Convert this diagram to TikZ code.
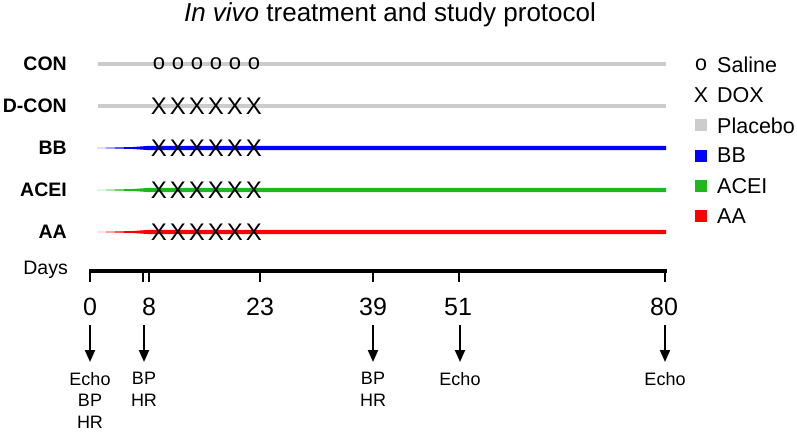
\documentclass[tikz,border=0pt]{standalone}
\usepackage{fontspec}
\setmainfont{Liberation Sans}
\usetikzlibrary{arrows.meta}
\usepackage{xcolor}
\definecolor{Placebo}{HTML}{CCCCCC}
\definecolor{BBblue}{HTML}{0000FF}
\definecolor{ACEIgreen}{HTML}{1CB81C}
\definecolor{AAred}{HTML}{FF0000}

\begin{document}
\begin{tikzpicture}[x=1pt,y=-1pt,
    grp/.style={font=\fontsize{19.5}{19.5}\selectfont\bfseries,anchor=east,inner sep=0pt},
    dose/.style={font=\fontsize{24}{24}\selectfont,inner sep=0pt},
    legtxt/.style={font=\fontsize{21.5}{21.5}\selectfont,anchor=west,inner sep=0pt},
    daynum/.style={font=\fontsize{25}{25}\selectfont,inner sep=0pt},
    meas/.style={font=\fontsize{18}{21.5}\selectfont,align=center,anchor=north,inner sep=0pt},
    tick/.style={line width=2pt},
    down/.style={line width=2pt,-{Triangle[length=12pt,width=10pt]},shorten >=10pt}]
  \useasboundingbox (0,0) rectangle (797,431);

  % title
  \node[font=\fontsize{26}{26}\selectfont,anchor=base] (title) at (390,21)
    {\textit{In vivo} treatment and study protocol};

  % treatment groups
  \foreach \nm/\lab/\col [count=\i from 0] in {con/CON/Placebo,dcon/D-CON/Placebo,
      bb/BB/BBblue,acei/ACEI/ACEIgreen,aa/AA/AAred}{
    \pgfmathsetmacro{\y}{64+42*\i}
    \node[grp] (\nm) at (67,\y) {\lab};
    \ifnum\i<2
      \draw[\col,line width=4pt] (98,\y) -- (666,\y);
    \else
      \fill[\col] (97,\y) -- (133,\y-1) -- (150,\y-2.2) -- (666,\y-2.2)
        -- (666,\y+2.2) -- (150,\y+2.2) -- (133,\y+1) -- cycle;
    \fi
  }
  \foreach \k in {0,...,5}{
    \pgfmathsetmacro{\x}{159+19*\k}
    \node[font=\fontsize{22}{22}\selectfont,inner sep=0pt] (sal\k) at (\x,64) {o};
    \foreach \nm [count=\j from 1] in {dcon,bb,acei,aa}{
      \pgfmathsetmacro{\y}{64+42*\j}
      \node[dose] (dox\nm\k) at (\x,\y) {X};
    }
  }

  % legend
  \node[font=\fontsize{21.5}{21.5}\selectfont,inner sep=0pt] (lsal) at (701,65) {o};
  \node[legtxt] (tsal) at (717,65) {Saline};
  \node[font=\fontsize{21.5}{21.5}\selectfont,inner sep=0pt] (ldox) at (701,95) {X};
  \node[legtxt] (tdox) at (717,95) {DOX};
  \foreach \col/\lab [count=\i from 2] in {Placebo/Placebo,BBblue/BB,ACEIgreen/ACEI,AAred/AA}{
    \pgfmathsetmacro{\y}{65+30.2*\i}
    \fill[\col] (695,\y-6) rectangle (707,\y+6);
    \node[legtxt] (t\lab) at (717,\y) {\lab};
  }

  % time axis
  \node[font=\fontsize{19.5}{19.5}\selectfont,anchor=east,inner sep=0pt] (days) at (68,270) {Days};
  \draw[line width=4.5pt] (89,271) -- (667,271);
  \foreach \x in {90,143,149,260,373,459,665}{
    \draw[tick] (\x,271) -- (\x,282);
  }
  \foreach \d/\x in {0/90,8/149,23/260,39/373,51/458,80/664}{
    \node[daynum] (d\d) at (\x,307) {\d};
  }

  % measurements
  \foreach \nm/\x/\txt in {m0/90/{Echo\\BP\\HR},m8/144/{BP\\HR},m39/373/{BP\\HR},
      m51/460/Echo,m80/665/Echo}{
    \coordinate (a\nm) at (\x,325);
    \node[meas] (\nm) at (\x,372) {\txt};
    \draw[down] (a\nm) -- (\nm.north);
  }
\end{tikzpicture}
\end{document}
